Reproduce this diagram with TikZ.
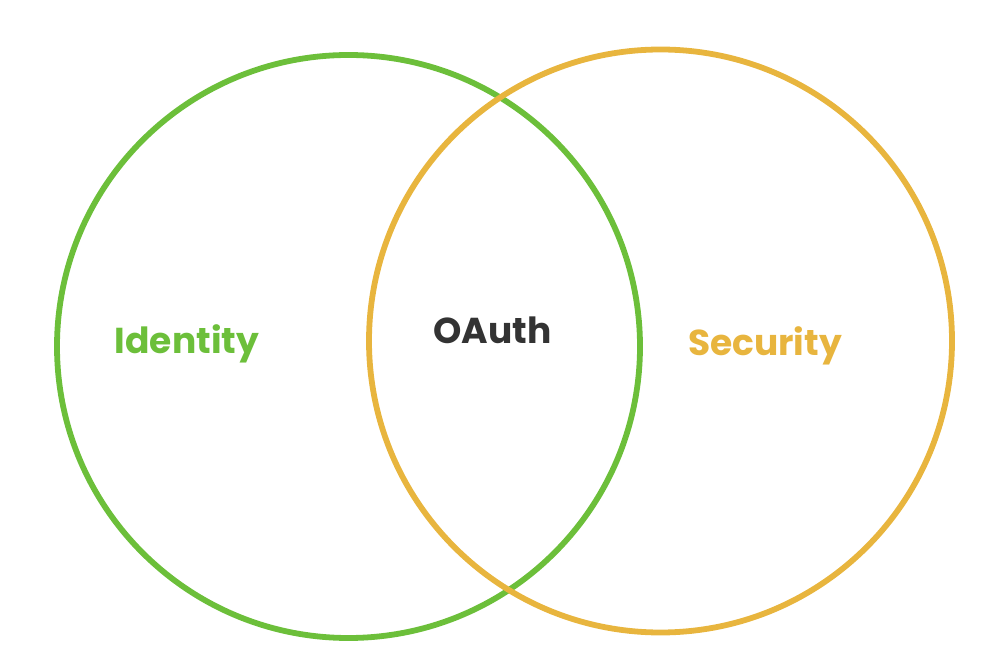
\documentclass[tikz,border=0pt]{standalone}
\usepackage{fontspec}
\setmainfont{Poppins}
\definecolor{idgreen}{RGB}{108,191,58}
\definecolor{secorange}{RGB}{232,181,62}
\definecolor{oauthgray}{RGB}{51,51,51}
\tikzset{
  ring/.style={line width=3.3pt},
  label text/.style={anchor=base, font=\fontsize{20.5}{24}\selectfont\bfseries}
}

\begin{document}
\begin{tikzpicture}
\useasboundingbox (0,0) rectangle (19.8,13.36);

\coordinate (idc) at (6.97,6.43);
\coordinate (secc) at (13.21,6.54);

\draw[ring, idgreen] (idc) circle (5.83);
\draw[ring, secorange] (secc) circle (5.83);

\node[label text, text=idgreen] (identity) at (3.74,6.28) {Identity};
\node[label text, text=oauthgray] (oauth) at (9.85,6.48) {OAuth};
\node[label text, text=secorange] (security) at (15.3,6.24) {Security};

\end{tikzpicture}
\end{document}
